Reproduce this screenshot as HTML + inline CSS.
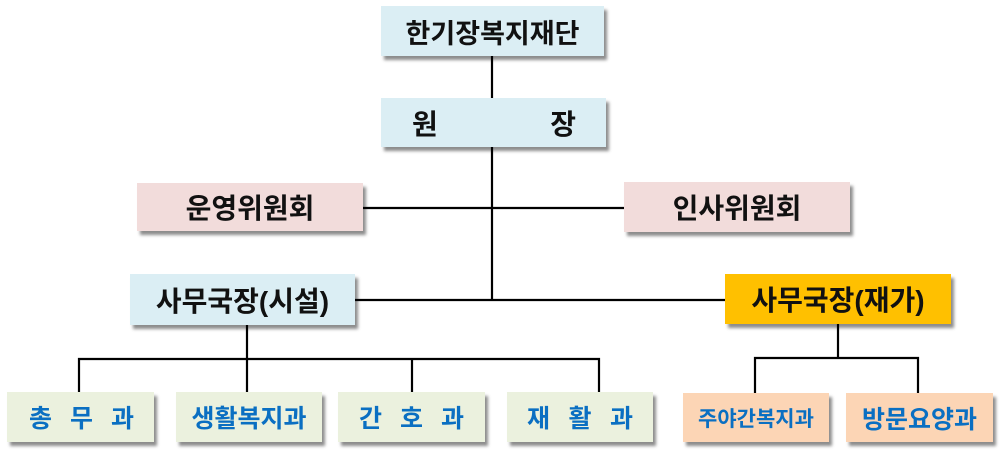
<!DOCTYPE html>
<html><head><meta charset="utf-8">
<style>
html,body{margin:0;padding:0;background:#fff;}
body{width:1000px;height:450px;position:relative;overflow:hidden;font-family:"Liberation Sans","Noto Sans CJK KR",sans-serif;}
.b{position:absolute;box-sizing:border-box;display:flex;align-items:center;justify-content:center;box-shadow:3px 4px 3px rgba(0,0,0,0.45);color:#111;font-size:28px;font-weight:bold;white-space:nowrap;}
.blue{background:#dbeef4;}
.pink{background:#f2dcdb;}
.yel{background:#ffc000;}
.grn{background:#ebf1de;color:#0a6fc2;font-weight:bold;font-size:25px;}
.pch{background:#fcd5b5;color:#0a6fc2;font-weight:bold;font-size:25px;}
.sp{justify-content:space-between;}
svg{position:absolute;left:0;top:0;}
</style></head><body>
<svg width="1000" height="450">
<g stroke="#000" stroke-width="2.2" fill="none">
<line x1="492" y1="56" x2="492" y2="300"/>
<line x1="363" y1="208" x2="624" y2="208"/>
<line x1="355" y1="300" x2="725" y2="300"/>
<line x1="247" y1="325" x2="247" y2="392"/>
<polyline points="79,392 79,359 599,359 599,392"/>
<line x1="412" y1="359" x2="412" y2="392"/>
<line x1="838" y1="324" x2="838" y2="358"/>
<polyline points="755,393 755,358 918,358 918,393"/>
</g>
</svg>
<div class="b blue" style="left:381px;top:6px;width:223px;height:50px;font-size:27px;">한기장복지재단</div>
<div class="b blue sp" style="left:381px;top:98px;width:225px;height:49px;padding:0 30px 0 31px;"><span>원</span><span>장</span></div>
<div class="b pink" style="left:137px;top:183px;width:226px;height:48px;">운영위원회</div>
<div class="b pink" style="left:624px;top:182px;width:226px;height:50px;">인사위원회</div>
<div class="b blue" style="left:130px;top:274px;width:225px;height:51px;">사무국장(시설)</div>
<div class="b yel" style="left:725px;top:274px;width:226px;height:50px;">사무국장(재가)</div>
<div class="b grn sp" style="left:7px;top:392px;width:147px;height:50px;padding:0 20px 0 22px;"><span>총</span><span>무</span><span>과</span></div>
<div class="b grn" style="left:176px;top:392px;width:146px;height:50px;">생활복지과</div>
<div class="b grn sp" style="left:338px;top:392px;width:147px;height:50px;padding:0 21px;"><span>간</span><span>호</span><span>과</span></div>
<div class="b grn sp" style="left:507px;top:392px;width:146px;height:50px;padding:0 20px;"><span>재</span><span>활</span><span>과</span></div>
<div class="b pch" style="left:683px;top:393px;width:146px;height:49px;font-size:21px;">주야간복지과</div>
<div class="b pch" style="left:846px;top:393px;width:147px;height:49px;">방문요양과</div>
</body></html>
